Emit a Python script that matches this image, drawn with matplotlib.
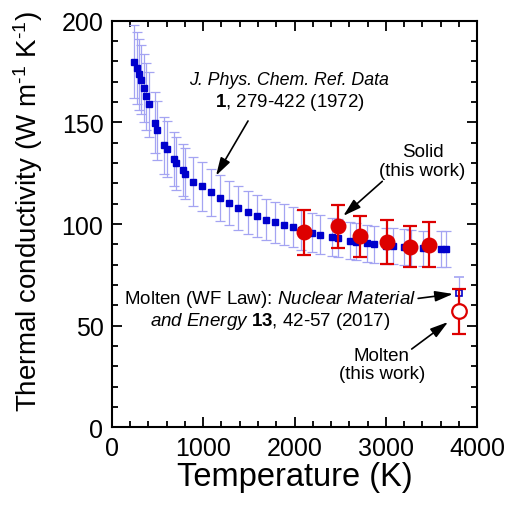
import matplotlib
matplotlib.use("Agg")
import matplotlib.pyplot as plt
from matplotlib.ticker import MultipleLocator

plt.rcParams['font.family'] = ['Liberation Sans', 'DejaVu Sans']
plt.rcParams['mathtext.fontset'] = 'custom'
plt.rcParams['mathtext.rm'] = 'Liberation Sans'
plt.rcParams['mathtext.it'] = 'Liberation Sans:italic'
plt.rcParams['mathtext.bf'] = 'Liberation Sans:bold'

# J. Phys. Chem. Ref. Data (1972) recommended values
ref_T = [244, 274, 299, 324, 350, 375, 405, 474, 499, 575, 605, 678, 703, 777, 805,
         892, 985, 1086, 1185, 1287, 1385, 1494, 1593, 1688, 1787, 1885, 1980, 2068,
         2188, 2274, 2405, 2476, 2602, 2675, 2797, 2873, 3001, 3074, 3201, 3275, 3403,
         3600, 3658]
ref_k = [179.8, 176.9, 173.6, 171.0, 166.7, 162.8, 158.9, 149.8, 146.1, 138.7, 136.9,
         132.0, 129.9, 126.7, 124.7, 120.8, 118.5, 115.6, 112.6, 110.3, 107.8, 105.8,
         103.8, 102.1, 100.8, 99.7, 98.4, 97.0, 95.7, 94.8, 93.5, 93.0, 91.8, 91.2,
         90.5, 90.0, 89.3, 89.0, 88.5, 88.3, 88.0, 87.6, 87.6]
ref_err = [18.0, 17.7, 17.4, 17.1, 16.7, 16.3, 15.9, 15.0, 14.6, 13.9, 13.7, 13.2, 13.0,
           12.7, 12.5, 12.1, 11.9, 11.6, 11.3, 11.0, 10.8, 10.6, 10.4, 10.2, 10.1, 10.0,
           9.8, 9.7, 9.6, 9.5, 9.4, 9.3, 9.2, 9.1, 9.1, 9.0, 8.9, 8.9, 8.9, 8.8, 8.8,
           8.8, 8.8]

# molten, Wiedemann-Franz law (Nuclear Materials and Energy 2017)
wf_T = [3800]
wf_k = [66.2]
wf_err = [7.5]

# this work
solid_T = [2107, 2479, 2711, 3015, 3264, 3472]
solid_k = [95.9, 98.9, 94.0, 91.0, 88.9, 89.9]
solid_err = [11.0, 10.6, 10.0, 10.8, 10.0, 10.9]
molten_T = [3800]
molten_k = [57.1]
molten_err = [11.0]

fig = plt.figure(figsize=(5.08, 5.06), dpi=100)
ax = fig.add_axes([0.22, 0.1536, 0.7196, 0.8034])

blue = '#0000cc'
red = '#dd0000'
lblue = '#a4a4f2'

ax.errorbar(ref_T, ref_k, yerr=ref_err, fmt='s', color=blue, ms=4.5, mec=blue,
            ecolor=lblue, elinewidth=0.9, capsize=3.5, capthick=0.9, zorder=2)
ax.errorbar(wf_T, wf_k, yerr=wf_err, fmt='s', color=blue, ms=5, mfc='white', mec=blue,
            mew=1.2, ecolor=lblue, elinewidth=0.9, capsize=3.5, capthick=0.9, zorder=2)
ax.errorbar(solid_T, solid_k, yerr=solid_err, fmt='o', color=red, ms=10.5, mec=red,
            ecolor=red, elinewidth=1.6, capsize=5, capthick=1.6, zorder=3)
ax.errorbar(molten_T, molten_k, yerr=molten_err, fmt='o', color=red, ms=10.5, mfc='white',
            mec=red, mew=1.6, ecolor=red, elinewidth=1.6, capsize=5, capthick=1.6, zorder=3)

arrow = dict(arrowstyle='-|>,head_length=0.68,head_width=0.2', color='black', lw=1.2,
             mutation_scale=16, shrinkA=0, shrinkB=0)
fs = 13.5

ax.text(1940, 171.1, 'J. Phys. Chem. Ref. Data', style='italic', fontsize=12.8,
        ha='center', va='center')
ax.text(1951, 160.3, '$\\mathbf{1}$, 279-422 (1972)', fontsize=fs, ha='center', va='center')
ax.annotate('', xy=(1141, 123.8), xytext=(1491, 150.7), arrowprops=arrow)

ax.text(3400, 131, 'Solid\n(this work)', ha='center', va='center', fontsize=fs,
        linespacing=1.1)
ax.annotate('', xy=(2533, 104), xytext=(2960, 121), arrowprops=arrow)

ax.text(3329, 63.4, 'Molten (WF Law): $\\mathit{Nuclear\\ Material}$', ha='right',
        va='center', fontsize=fs)
ax.text(1732, 52.4, '$\\mathit{and\\ Energy}$ $\\mathbf{13}$, 42-57 (2017)',
        ha='center', va='center', fontsize=fs)
ax.annotate('', xy=(3734, 65.6), xytext=(3352, 63.4), arrowprops=arrow)

ax.text(2957, 31, 'Molten\n(this work)', ha='center', va='center', fontsize=fs,
        linespacing=1.1)
ax.annotate('', xy=(3680, 51.8), xytext=(3282, 38.5), arrowprops=arrow)

ax.set_xlim(0, 4000)
ax.set_ylim(0, 200)
ax.xaxis.set_major_locator(MultipleLocator(1000))
ax.xaxis.set_minor_locator(MultipleLocator(200))
ax.yaxis.set_major_locator(MultipleLocator(50))
ax.yaxis.set_minor_locator(MultipleLocator(10))
ax.tick_params(which='both', direction='in', top=True, right=True, width=1.3,
               labelsize=18, pad=6)
ax.tick_params(which='major', length=7)
ax.tick_params(which='minor', length=4)
for s in ax.spines.values():
    s.set_linewidth(1.5)

ax.set_xlabel('Temperature (K)', fontsize=23.5, labelpad=1)
ax.set_ylabel('Thermal conductivity (W m$^{\\text{-1}}$ K$^{\\text{-1}}$)', fontsize=20)
ax.yaxis.set_label_coords(-0.182, 0.532)

fig.savefig('out.png', dpi=100)
